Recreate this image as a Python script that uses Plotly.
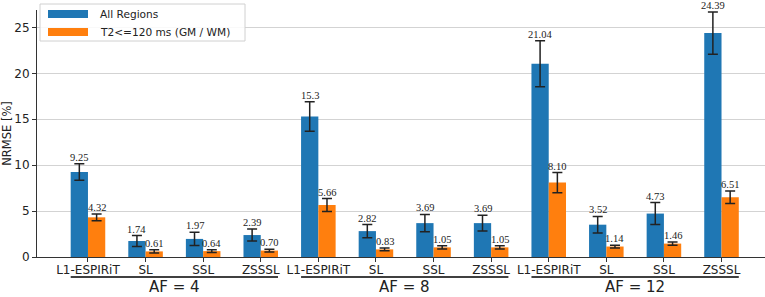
import plotly.graph_objects as go

methods = ["L1-ESPIRiT", "SL", "SSL", "ZSSSL"]
af_groups = ["AF = 4", "AF = 8", "AF = 12"]
series_names = ["All Regions", "T2<=120 ms (GM / WM)"]

all_mean = [9.25, 1.74, 1.97, 2.39, 15.3, 2.82, 3.69, 3.69, 21.04, 3.52, 4.73, 24.39]
all_err = [0.90, 0.60, 0.73, 0.65, 1.60, 0.72, 0.95, 0.85, 2.50, 0.90, 1.20, 2.30]
all_text = ["9.25", "1.74", "1.97", "2.39", "15.3", "2.82", "3.69", "3.69", "21.04", "3.52", "4.73", "24.39"]

t2_mean = [4.32, 0.61, 0.64, 0.70, 5.66, 0.83, 1.05, 1.05, 8.10, 1.14, 1.46, 6.51]
t2_err = [0.37, 0.18, 0.15, 0.15, 0.70, 0.15, 0.17, 0.17, 1.10, 0.15, 0.18, 0.67]
t2_text = ["4.32", "0.61", "0.64", "0.70", "5.66", "0.83", "1.05", "1.05", "8.10", "1.14", "1.46", "6.51"]

y_ticks = [0, 5, 10, 15, 20, 25]

BLUE = "#1f77b4"
ORANGE = "#ff7f0e"
INK = "#222222"
BARGAP = 0.4
bar_w = (1 - BARGAP) / 2

n = len(methods) * len(af_groups)
xs = list(range(n))
tick_text = methods * len(af_groups)

fig = go.Figure()
for name, mean, err, color in [
    (series_names[0], all_mean, all_err, BLUE),
    (series_names[1], t2_mean, t2_err, ORANGE),
]:
    fig.add_trace(go.Bar(
        x=xs, y=mean, name=name, marker=dict(color=color, line=dict(width=0)),
        error_y=dict(type="data", array=err, visible=True, color=INK, thickness=1.5, width=5),
        showlegend=False,
    ))

annotations = []
for i in xs:
    for off, mean, err, txt in [(-bar_w / 2, all_mean, all_err, all_text),
                                (bar_w / 2, t2_mean, t2_err, t2_text)]:
        annotations.append(dict(
            x=i + off, y=mean[i] + err[i], xref="x", yref="y", text=txt[i],
            showarrow=False, yanchor="bottom", xanchor="center", borderpad=0,
            font=dict(family="Liberation Serif", size=10.5, color=INK),
        ))

# layout helpers (pixel -> paper)
W, H, L, B = 728.0, 247.0, 37.0, 257.0
def px(x):
    return (x - L) / W
def py(y):
    return (B - y) / H

# group labels and underlines
shapes = []
per = len(methods)
for g, lab in enumerate(af_groups):
    x0 = g * per - bar_w
    x1 = (g + 1) * per - 1 + bar_w
    shapes.append(dict(type="line", xref="x", yref="paper", x0=x0, x1=x1,
                       y0=py(277), y1=py(277), line=dict(color="black", width=1.5)))
    annotations.append(dict(x=(g * per + (g + 1) * per - 1) / 2, y=py(296.5), xref="x", yref="paper",
                            text=lab, showarrow=False, yanchor="bottom", borderpad=0,
                            font=dict(family="DejaVu Sans", size=15, color=INK)))

# manual legend
bx0, bx1, by0, by1 = px(40), px(245), py(41), py(4)
shapes.append(dict(type="rect", xref="paper", yref="paper", x0=bx0, x1=bx1, y0=by0, y1=by1,
                   fillcolor="rgba(255,255,255,0.85)", line=dict(color="#d0d0d0", width=1)))
for (ytop, ybot), color, name in [((10, 18), BLUE, series_names[0]), ((28, 36), ORANGE, series_names[1])]:
    shapes.append(dict(type="rect", xref="paper", yref="paper", x0=px(48), x1=px(88),
                       y0=py(ybot), y1=py(ytop), fillcolor=color, line=dict(width=0)))
    annotations.append(dict(x=px(98), y=py((ytop + ybot) / 2), xref="paper", yref="paper",
                            text=name, showarrow=False, xanchor="left", yanchor="middle",
                            font=dict(family="DejaVu Sans", size=10.6, color=INK)))

fig.update_layout(
    width=765, height=297,
    margin=dict(l=37, r=0, t=10, b=40),
    paper_bgcolor="white", plot_bgcolor="white",
    barmode="group", bargap=BARGAP, bargroupgap=0,
    annotations=annotations, shapes=shapes,
    font=dict(family="DejaVu Sans", size=12, color=INK),
    xaxis=dict(range=[-0.885, 11.755], tickvals=xs, ticktext=tick_text, showgrid=False,
               showline=True, linecolor="#333333", linewidth=1, ticks="outside", ticklen=4,
               tickcolor="#333333", tickfont=dict(size=12, family="DejaVu Sans", color=INK),
               ticklabelstandoff=-2, zeroline=False, automargin=False),
    yaxis=dict(range=[0, 26.9], tickvals=y_ticks, showgrid=True, gridcolor="#d3d3d3", gridwidth=1,
               showline=True, linecolor="#333333", linewidth=1, ticks="outside", ticklen=4,
               tickcolor="#333333", tickfont=dict(size=12, family="DejaVu Sans", color=INK),
               zeroline=False, automargin=False,
               title=dict(text="NRMSE [%]", standoff=4, font=dict(size=11.5, family="DejaVu Sans", color=INK))),
)
fig.update_traces(cliponaxis=False)

fig.write_html("out.html", config={"displayModeBar": False},
               post_script="document.body.style.margin='0';document.body.style.overflow='hidden';")
